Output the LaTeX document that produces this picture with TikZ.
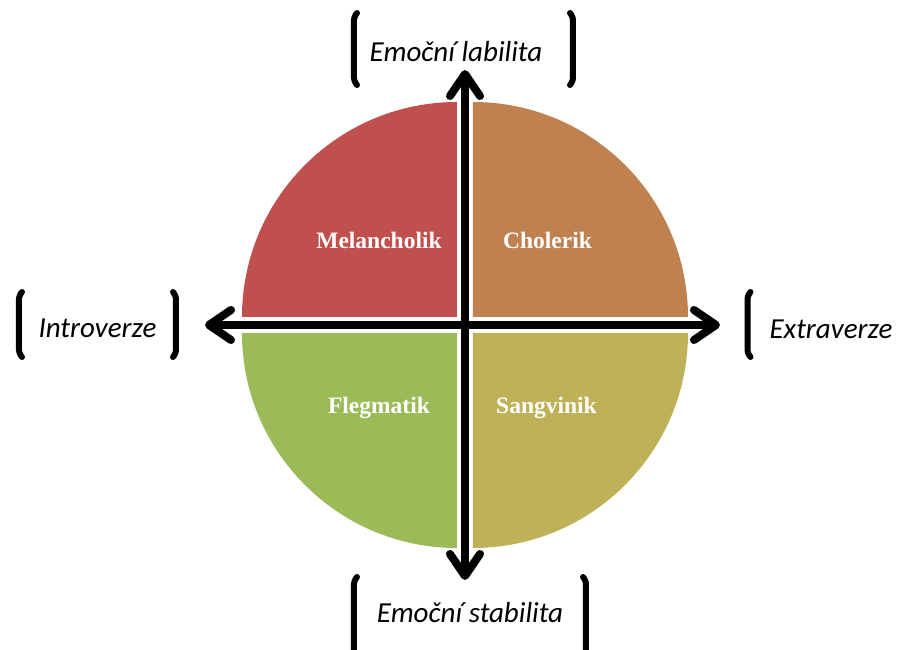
\documentclass[tikz,border=0pt]{standalone}
\usepackage{fontspec}
\usetikzlibrary{positioning,arrows.meta}
\newfontfamily\axfont{Carlito}
\newfontfamily\qfont{Liberation Serif}
\definecolor{melred}{RGB}{192,80,77}
\definecolor{cholor}{RGB}{192,129,80}
\definecolor{flegrn}{RGB}{155,187,89}
\definecolor{sangol}{RGB}{191,177,88}
\tikzset{
  qlbl/.style={text=white,anchor=base,inner sep=0pt,
               font=\qfont\bfseries\fontsize{23.5}{28}\selectfont},
  axlbl/.style={anchor=base,inner sep=0pt,
                font=\axfont\itshape\fontsize{29}{34}\selectfont},
  axis/.style={line width=8pt,line cap=round,
    {Straight Barb[length=22pt,width=30pt,line cap=round,line join=round]}-%
    {Straight Barb[length=22pt,width=30pt,line cap=round,line join=round]}},
  brk/.style={line width=6pt,line cap=round,rounded corners=3pt},
}
% bracket: x, top, bottom, hook direction
\newcommand\brak[4]{\draw[brk] (#1+#4*3,#2) -- (#1,#2-4) -- (#1,#3+4) -- (#1+#4*3,#3);}

\begin{document}
\begin{tikzpicture}[x=1pt,y=1pt]
\clip (-465,-325) rectangle (446,325);

% quarters
\fill[melred] (-8,8) -- ++(-215,0) arc[start angle=180,end angle=90,radius=215] -- cycle;
\fill[cholor] (8,8) -- ++(215,0) arc[start angle=0,end angle=90,radius=215] -- cycle;
\fill[flegrn] (-8,-8) -- ++(-215,0) arc[start angle=180,end angle=270,radius=215] -- cycle;
\fill[sangol] (8,-8) -- ++(215,0) arc[start angle=0,end angle=-90,radius=215] -- cycle;

\node[qlbl] (mel) at (-86,76) {Melancholik};
\node[qlbl] (cho) at (82.5,76) {Cholerik};
\node[qlbl] (fle) at (-86,-89) {Flegmatik};
\node[qlbl] (san) at (81.5,-89) {Sangvinik};

% axes
\coordinate (up) at (0,255);
\coordinate (down) at (0,-255);
\coordinate (left) at (-260,0);
\coordinate (right) at (255,0);
\draw[axis] (down) -- (up);
\draw[axis] (left) -- (right);

\node[axlbl] (lab) at (-9,263) {Emoční labilita};
\node[axlbl] (stab) at (5,-298) {Emoční stabilita};
\node[axlbl] (intro) at (-367.5,-13) {Introverze};
\node[axlbl] (extra) at (366,-14) {Extraverze};

\brak{-111}{312}{240}{1}
\brak{108}{312}{240}{-1}
\brak{-111}{-252}{-340}{1}
\brak{121}{-252}{-340}{-1}
\brak{-446}{33}{-32}{1}
\brak{-289}{33}{-32}{-1}
\brak{282.5}{33}{-32}{1}
\brak{453}{33}{-32}{-1}
\end{tikzpicture}
\end{document}
